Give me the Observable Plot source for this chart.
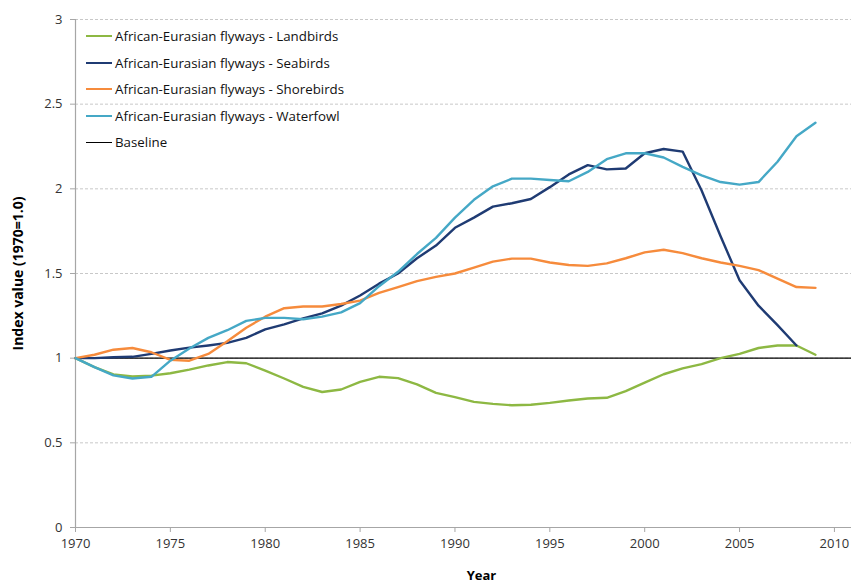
<!DOCTYPE html>
<html>
<head>
<meta charset="utf-8">
<script src="https://cdn.jsdelivr.net/npm/d3@7"></script>
<script src="https://cdn.jsdelivr.net/npm/@observablehq/plot@0.6"></script>
<style>
  html, body { margin: 0; padding: 0; background: #fff; }
  #wrap { position: relative; width: 851px; height: 586px; font-family: "Open Sans", sans-serif; }
  #legend { position: absolute; left: 86px; top: 23px; font-size: 13.3px; color: #111; }
  .item { display: flex; align-items: center; height: 26.5px; }
  .sw { width: 26px; height: 0; margin-right: 3px; }
  svg g[aria-label="y-axis label"] text, svg g[aria-label="x-axis label"] text { font-weight: bold; fill: #000; }
  svg g[aria-label="y-axis label"] text { font-size: 14px; }
</style>
</head>
<body>
<div id="wrap"><div id="legend"></div></div>
<script>
const years = [1970,1971,1972,1973,1974,1975,1976,1977,1978,1979,
               1980,1981,1982,1983,1984,1985,1986,1987,1988,1989,
               1990,1991,1992,1993,1994,1995,1996,1997,1998,1999,
               2000,2001,2002,2003,2004,2005,2006,2007,2008,2009];

const seriesNames = [
  "African-Eurasian flyways - Landbirds",
  "African-Eurasian flyways - Seabirds",
  "African-Eurasian flyways - Shorebirds",
  "African-Eurasian flyways - Waterfowl"
];
const seriesColors = ["#8db843", "#1f3b73", "#f68b3c", "#45a8c6"];
const baselineName = "Baseline";
const baselineValue = [1];

const landbirds = [1.00,0.947,0.904,0.892,0.897,0.911,0.932,0.957,0.977,0.970,
                   0.927,0.880,0.830,0.800,0.815,0.860,0.890,0.882,0.845,0.795,
                   0.770,0.742,0.730,0.722,0.725,0.736,0.750,0.762,0.766,0.805,
                   0.855,0.905,0.940,0.965,1.000,1.025,1.060,1.075,1.075,1.020];
const seabirds  = [1.00,1.000,1.005,1.008,1.025,1.045,1.062,1.075,1.090,1.120,
                   1.170,1.200,1.235,1.265,1.310,1.370,1.440,1.500,1.590,1.665,
                   1.770,1.830,1.895,1.915,1.940,2.010,2.085,2.140,2.115,2.120,
                   2.210,2.235,2.220,1.990,1.720,1.460,1.310,1.195,1.075];
const shorebirds = [1.00,1.020,1.050,1.060,1.035,0.990,0.985,1.025,1.100,1.180,
                    1.245,1.295,1.305,1.305,1.320,1.340,1.385,1.420,1.455,1.480,
                    1.500,1.535,1.570,1.588,1.588,1.565,1.550,1.545,1.560,1.590,
                    1.625,1.640,1.620,1.590,1.565,1.545,1.520,1.470,1.420,1.415];
const waterfowl = [1.00,0.947,0.898,0.880,0.890,0.985,1.057,1.120,1.165,1.220,
                   1.238,1.238,1.230,1.245,1.270,1.325,1.425,1.510,1.615,1.710,
                   1.830,1.935,2.015,2.060,2.060,2.052,2.045,2.100,2.175,2.210,
                   2.210,2.185,2.130,2.080,2.040,2.025,2.040,2.160,2.310,2.390];

const xTicks = [1970,1975,1980,1985,1990,1995,2000,2005,2010];
const yTicks = [0,0.5,1,1.5,2,2.5,3];
const xDomain = [1970, 2010.9];
const yDomain = [0, 3];

const allValues = [landbirds, seabirds, shorebirds, waterfowl];
const rows = [];
allValues.forEach((vals, i) => {
  vals.forEach((v, j) => rows.push({year: years[j], value: v, series: seriesNames[i]}));
});

const chart = Plot.plot({
  width: 851,
  height: 586,
  marginTop: 19,
  marginBottom: 59,
  marginLeft: 75,
  marginRight: 0,
  style: {fontFamily: "'Open Sans', sans-serif", fontSize: "13px", color: "#333", background: "#fff"},
  x: {domain: xDomain},
  y: {domain: yDomain},
  color: {domain: seriesNames, range: seriesColors},
  marks: [
    Plot.gridY(yTicks.filter(d => d !== yDomain[0]), {stroke: "#c8c8c8", strokeOpacity: 1, strokeDasharray: "3,2"}),
    Plot.ruleY([yDomain[0]], {stroke: "#a6a6a6", strokeWidth: 1.2}),
    Plot.ruleX([xDomain[0]], {stroke: "#a6a6a6", strokeWidth: 1.2}),
    Plot.axisX({ticks: xTicks, tickFormat: d => String(d), tickSize: 5, tickPadding: 6, stroke: "#a6a6a6",
                label: "Year", labelAnchor: "center", labelOffset: 52, labelArrow: "none", fontSize: 13}),
    Plot.axisY({ticks: yTicks, tickFormat: d => String(d), tickSize: 5, tickPadding: 8, stroke: "#a6a6a6",
                label: "Index value (1970=1.0)", labelAnchor: "center", labelOffset: 62, labelArrow: "none", fontSize: 13}),
    Plot.ruleY(baselineValue, {stroke: "#000", strokeWidth: 1.2}),
    Plot.lineY(rows, {x: "year", y: "value", z: "series", stroke: "series", strokeWidth: 2.4, curve: "linear"})
  ]
});
document.getElementById("wrap").prepend(chart);

// nudge the x-axis title to match the reference's placement
const xl = chart.querySelector('g[aria-label="x-axis label"]');
if (xl) xl.setAttribute("transform", (xl.getAttribute("transform") || "") + " translate(18,0)");

const legend = document.getElementById("legend");
const legendNames = seriesNames.concat([baselineName]);
const legendColors = seriesColors.concat(["#000"]);
legendNames.forEach((name, i) => {
  const item = document.createElement("div");
  item.className = "item";
  const sw = document.createElement("span");
  sw.className = "sw";
  sw.style.borderTop = (i < 4 ? 2.5 : 1.2) + "px solid " + legendColors[i];
  const t = document.createElement("span");
  t.textContent = name;
  item.appendChild(sw);
  item.appendChild(t);
  legend.appendChild(item);
});
</script>
</body>
</html>
